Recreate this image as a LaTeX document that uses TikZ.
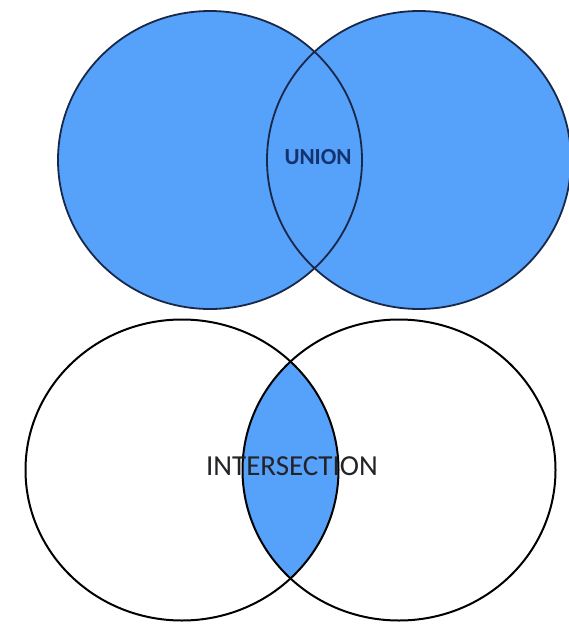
\documentclass[tikz,border=0pt]{standalone}
\usepackage{fontspec}
\setmainfont{Carlito}
\usetikzlibrary{shapes.geometric}
\definecolor{vennblue}{RGB}{86,161,250}
\definecolor{navyline}{RGB}{24,40,72}
\definecolor{uniontext}{RGB}{20,50,110}
\definecolor{intertext}{RGB}{35,35,40}
\tikzset{
  setA/.style={ellipse, inner sep=0pt, outer sep=0pt, minimum width=304pt, minimum height=298pt, line width=1.8pt},
  setB/.style={ellipse, inner sep=0pt, outer sep=0pt, minimum width=313pt, minimum height=301pt, line width=2pt},
}
\begin{document}
\begin{tikzpicture}[x=1pt,y=1pt]
\useasboundingbox[fill=white] (0,0) rectangle (569,-626);
% Union
\node[setA, fill=vennblue] (ua) at (210,-160) {};
\node[setA, fill=vennblue] (ub) at (419,-160) {};
\node[setA, draw=navyline] (uao) at (210,-160) {};
\node[setA, draw=navyline] (ubo) at (419,-160) {};
\node[text=uniontext, font=\fontsize{23}{23}\selectfont\bfseries] (ut) at (318,-157) {UNION};
% Intersection
\begin{scope}
  \clip (182,-470) ellipse (156.5 and 150.5);
  \fill[vennblue] (399,-470) ellipse (156.5 and 150.5);
\end{scope}
\node[setB, draw=black] (ia) at (182,-470) {};
\node[setB, draw=black] (ib) at (399,-470) {};
\node[text=intertext, font=\fontsize{29}{29}\selectfont] (it) at (292,-466) {INTERSECTION};
\end{tikzpicture}
\end{document}
